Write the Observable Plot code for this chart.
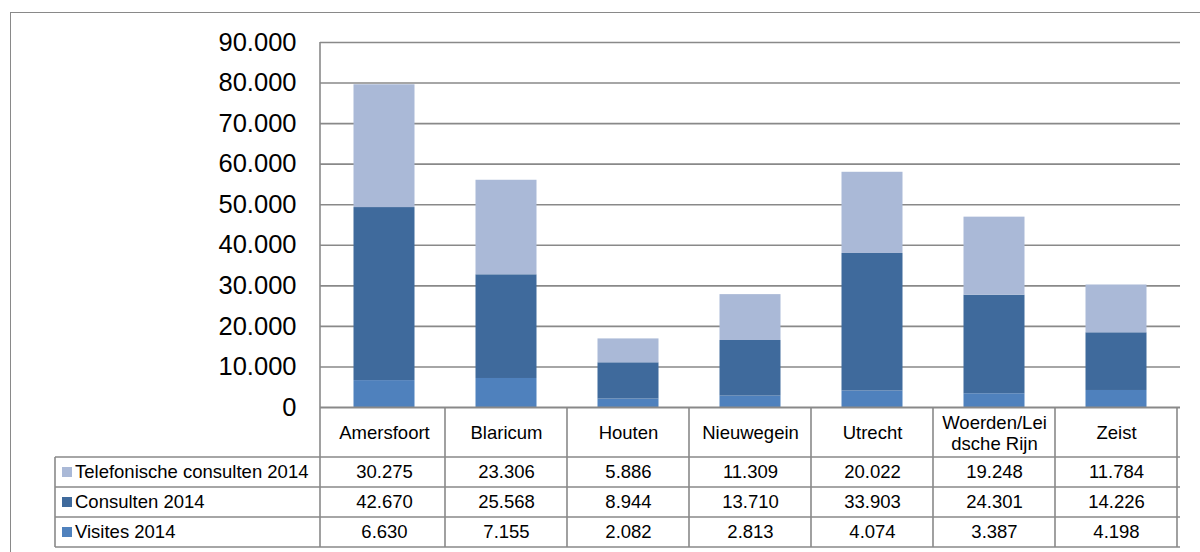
<!DOCTYPE html>
<html>
<head>
<meta charset="utf-8">
<script src="https://cdn.jsdelivr.net/npm/d3@7"></script>
<script src="https://cdn.jsdelivr.net/npm/@observablehq/plot@0.6"></script>
<style>
  html, body { margin: 0; padding: 0; background: #fff; }
  #chart { width: 1200px; height: 552px; overflow: hidden; }
</style>
</head>
<body>
<div id="chart"></div>
<script>
// Locations (one column each in the data table)
const categories = ["Amersfoort", "Blaricum", "Houten", "Nieuwegein", "Utrecht", "Woerden/Leidsche Rijn", "Zeist"];
const categoryLabels = ["Amersfoort", "Blaricum", "Houten", "Nieuwegein", "Utrecht", "Woerden/Lei\ndsche Rijn", "Zeist"];

// Series, in table order (top row first)
const seriesNames = ["Telefonische consulten 2014", "Consulten 2014", "Visites 2014"];
const seriesColors = ["#AAB9D7", "#3F6A9C", "#4F81BD"];

const telefonischeConsulten = [30275, 23306, 5886, 11309, 20022, 19248, 11784];
const consulten = [42670, 25568, 8944, 13710, 33903, 24301, 14226];
const visites = [6630, 7155, 2082, 2813, 4074, 3387, 4198];

const yTicks = [0, 10000, 20000, 30000, 40000, 50000, 60000, 70000, 80000, 90000];

// Dutch number formatting: 90.000
const nl = d3.formatLocale({decimal: ",", thousands: ".", grouping: [3], currency: ["€ ", ""]});
const fmt = nl.format(",d");

const seriesValues = [telefonischeConsulten, consulten, visites];

// Long rows, stacked from the bottom: visites, consulten, telefonische consulten
const rows = [];
categories.forEach((c, i) => {
  for (let s = seriesNames.length - 1; s >= 0; --s) {
    rows.push({category: c, series: seriesNames[s], value: seriesValues[s][i]});
  }
});

const FONT = "'Liberation Sans', Arial, Helvetica, sans-serif";
const LINE = "#898989";
const HEADER_H = 50, ROW_H = 30, LEGEND_LEFT = 55;

// Outer chart border
function chartBorder() {
  return d3.create("svg:rect")
    .attr("x", 10.5).attr("y", 12.5)
    .attr("width", 1300).attr("height", 700)
    .attr("fill", "none").attr("stroke", LINE).attr("stroke-width", 1)
    .node();
}

// Grid lines of the data table below the chart, plus the legend keys
function tableGrid(index, scales, values, dimensions) {
  const {x, y} = scales;
  const {width, marginLeft, marginRight} = dimensions;
  const left = marginLeft, right = width - marginRight;
  const top = y(0);
  const headerBottom = top + HEADER_H;
  const bottom = headerBottom + ROW_H * seriesNames.length;
  const g = d3.create("svg:g");
  const lines = g.append("g").attr("stroke", LINE).attr("stroke-width", 1.6).attr("fill", "none");

  // value axis line
  lines.append("line").attr("x1", left).attr("x2", left).attr("y1", y(yTicks[yTicks.length - 1])).attr("y2", bottom);
  // horizontal row lines
  for (let r = 0; r <= seriesNames.length; ++r) {
    const yy = headerBottom + r * ROW_H;
    lines.append("line").attr("x1", LEGEND_LEFT).attr("x2", right).attr("y1", yy).attr("y2", yy);
  }
  // legend column left edge
  lines.append("line").attr("x1", LEGEND_LEFT).attr("x2", LEGEND_LEFT).attr("y1", headerBottom).attr("y2", bottom);
  // column separators
  categories.forEach((c) => {
    const xx = x(c) + x.bandwidth();
    lines.append("line").attr("x1", xx).attr("x2", xx).attr("y1", top).attr("y2", bottom);
  });

  // legend keys and series names
  seriesNames.forEach((name, s) => {
    const cy = headerBottom + s * ROW_H + ROW_H / 2;
    g.append("rect").attr("x", 62).attr("y", cy - 5).attr("width", 10).attr("height", 10).attr("fill", seriesColors[s]);
    g.append("text").attr("x", 75).attr("y", cy).attr("dy", "0.35em")
      .attr("text-anchor", "start")
      .attr("font-size", 18.5).attr("font-family", FONT).attr("fill", "#000")
      .text(name);
  });
  return g.node();
}

const marks = [
  chartBorder,
  Plot.ruleY(yTicks.slice(1), {stroke: LINE, strokeWidth: 1.6}),
  Plot.barY(rows, {x: "category", y: "value", fill: "series", insetLeft: 30.5, insetRight: 30.5}),
  Plot.ruleY([0], {stroke: LINE, strokeWidth: 1.8}),
  Plot.text(yTicks, {
    y: (d) => d, text: (d) => fmt(d), frameAnchor: "left", dx: -24,
    textAnchor: "end", fontSize: 25.5, fill: "#000"
  }),
  Plot.text(categories, {
    x: (d) => d, text: (d, i) => categoryLabels[i], frameAnchor: "bottom",
    dy: HEADER_H / 2, lineAnchor: "middle", lineHeight: 1.15, fontSize: 18.5, fill: "#000"
  }),
  tableGrid
];

// One row of values per series in the table
seriesNames.forEach((name, s) => {
  marks.push(Plot.text(categories, {
    x: (d) => d, text: (d, i) => fmt(seriesValues[s][i]), frameAnchor: "bottom",
    dy: HEADER_H + s * ROW_H + ROW_H / 2, lineAnchor: "middle", fontSize: 18.5, fill: "#000"
  }));
});

const chart = Plot.plot({
  width: 1200,
  height: 552,
  marginLeft: 320,
  marginRight: 20,
  marginTop: 42,
  marginBottom: 145,
  style: {fontFamily: FONT, background: "#fff", overflow: "visible"},
  x: {type: "band", domain: categories, padding: 0, axis: null},
  y: {domain: [0, 90000], axis: null},
  color: {domain: seriesNames, range: seriesColors},
  marks
});

document.getElementById("chart").append(chart);
</script>
</body>
</html>
